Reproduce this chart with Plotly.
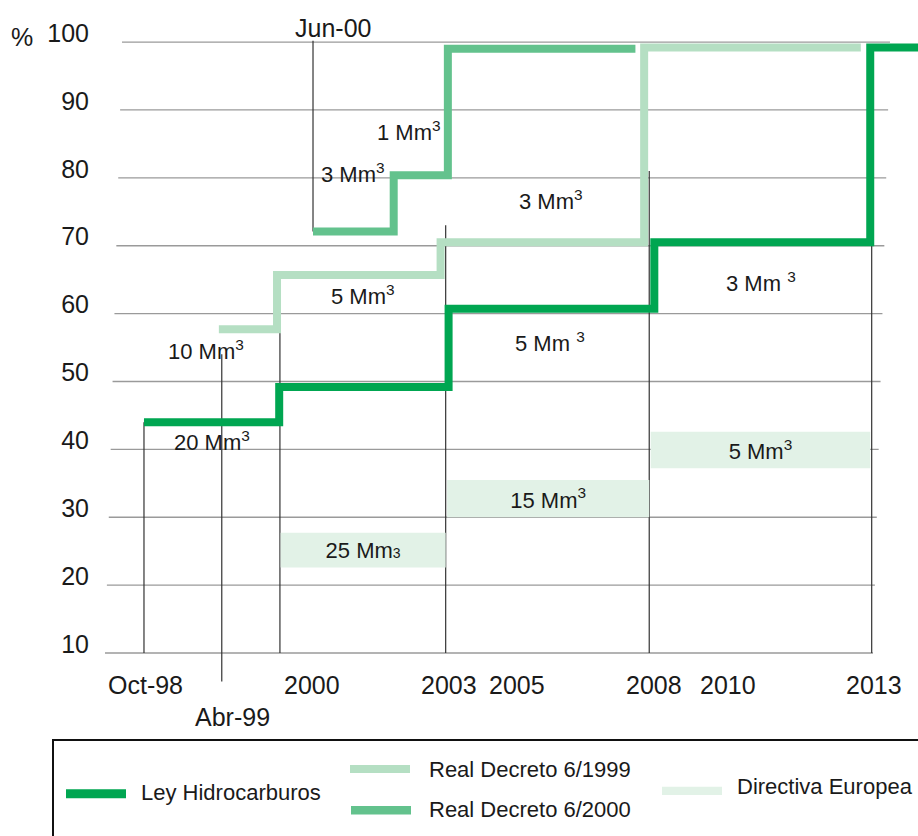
import plotly.graph_objects as go

# ---------------- data ----------------
# Schematic (non-uniform) timeline used by the original chart: Oct-98 = 0 ... 2013 = 100
x_tick_labels = ["Oct-98", "Abr-99", "2000", "2003", "2005", "2008", "2010", "2013"]
x_tick_pos = [0.2, 12.2, 23.1, 42.0, 51.3, 70.1, 80.4, 100.4]
x_tick_row = [0, 1, 0, 0, 0, 0, 0, 0]          # Abr-99 sits on a second row
jun00_label = "Jun-00"
jun00_pos = 26.0

y_ticks = [10, 20, 30, 40, 50, 60, 70, 80, 90, 100]

series_names = ["Ley Hidrocarburos", "Real Decreto 6/1999", "Real Decreto 6/2000", "Directiva Europea"]

ley_x = [0.0, 18.6, 41.9, 70.2, 99.9, 106.5]
ley_y = [44.0, 49.2, 60.7, 70.5, 99.2, 99.2]

rd1999_x = [10.3, 18.3, 40.8, 68.8, 98.6]
rd1999_y = [57.7, 65.7, 70.5, 99.2, 99.2]

rd2000_x = [23.25, 34.35, 41.8, 67.6]
rd2000_y = [72.1, 80.4, 99.0, 99.0]

dir_start = [18.8, 41.7, 69.7]
dir_end = [41.5, 69.5, 99.9]
dir_low = [22.6, 30.0, 37.2]
dir_high = [27.7, 35.5, 42.6]
dir_labels = ["25 Mm<span style='font-size:14px'>3</span>", "15 Mm<sup>3</sup>", "5 Mm<sup>3</sup>"]

# vertical event lines: x, lower end, upper end
event_x = [0.0, 10.7, 18.7, 23.25, 41.5, 69.5, 100.1]
event_lo = [10, 5.8, 10, 72.1, 10, 10, 10]
event_hi = [44.0, 54.0, 57.7, 100.2, 73.0, 81.0, 70.5]

# volume thresholds labels next to the steps
step_text = ["20 Mm<sup>3</sup>", "10 Mm<sup>3</sup>", "5 Mm<sup>3</sup>", "3 Mm<sup>3</sup>",
             "1 Mm<sup>3</sup>", "3 Mm<sup>3</sup>", "5 Mm <sup>3</sup>", "3 Mm <sup>3</sup>"]
step_x = [9.4, 8.5, 30.1, 28.75, 36.45, 55.98, 55.85, 84.87]
step_y = [41.2, 54.7, 62.7, 80.7, 86.9, 76.7, 55.8, 64.6]

# ---------------- style ----------------
FONT = "Liberation Sans, Arial, sans-serif"
C_LEY = "#00a651"
C_RD99 = "#b5dfc3"
C_RD00 = "#63c28d"
C_DIR = "#e2f2e7"
TXT = "#1a1a1a"

W, H = 918, 836
PLOT_L, PLOT_T, PLOT_B = 100, 0, 720          # plot box in page pixels
ML, MR, MT, MB = PLOT_L, 0, PLOT_T, H - PLOT_B
PW, PH = W - ML - MR, H - MT - MB


def fx(p):
    return (p - PLOT_L) / PW


def fy(p):
    return 1 - (p - PLOT_T) / PH


fig = go.Figure()

fig.add_trace(go.Bar(
    x=[(a + b) / 2 for a, b in zip(dir_start, dir_end)],
    width=[b - a for a, b in zip(dir_start, dir_end)],
    base=dir_low,
    y=[h - l for h, l in zip(dir_high, dir_low)],
    marker=dict(color=C_DIR, line=dict(width=0)),
    text=dir_labels, textposition="inside", insidetextanchor="middle",
    textfont=dict(family=FONT, size=22, color=TXT), constraintext="none",
    name=series_names[3], showlegend=False, hoverinfo="skip",
))

for xs, ys, col, nm in [(ley_x, ley_y, C_LEY, series_names[0]),
                        (rd1999_x, rd1999_y, C_RD99, series_names[1]),
                        (rd2000_x, rd2000_y, C_RD00, series_names[2])]:
    fig.add_trace(go.Scatter(x=xs, y=ys, mode="lines", line=dict(color=col, width=8, shape="hv"),
                             name=nm, showlegend=False, hoverinfo="skip"))

shapes = []
# horizontal grid lines (slightly slanted extents like the original)
for v in y_ticks:
    s = 105 + (v - 10) / 90 * 17
    e = 873 + (v - 10) / 90 * 17
    shapes.append(dict(type="line", xref="paper", yref="y", x0=fx(s), x1=fx(e), y0=v, y1=v,
                       line=dict(color="#9a9a9a", width=1.3), layer="below"))
# vertical event lines
for x, lo, hi in zip(event_x, event_lo, event_hi):
    shapes.append(dict(type="line", xref="x", yref="y", x0=x, x1=x, y0=lo, y1=hi,
                       line=dict(color="#333333", width=1.2), layer="below"))

# legend box and samples
shapes.append(dict(type="rect", xref="paper", yref="paper", x0=fx(53), x1=fx(960), y0=fy(740), y1=fy(900),
                   line=dict(color="#111111", width=2), fillcolor="rgba(0,0,0,0)"))
leg_samples = [(66, 126, 793.7, C_LEY, 9), (350, 410, 769, C_RD99, 8),
               (351, 411, 810.3, C_RD00, 8.5), (662, 722, 790.8, C_DIR, 8.3)]
for x0, x1, yy, col, wdt in leg_samples:
    shapes.append(dict(type="line", xref="paper", yref="paper", x0=fx(x0), x1=fx(x1), y0=fy(yy), y1=fy(yy),
                       line=dict(color=col, width=wdt)))

annotations = []
for t, x, y in zip(step_text, step_x, step_y):
    annotations.append(dict(text=t, x=x, y=y, xref="x", yref="y", showarrow=False,
                            font=dict(family=FONT, size=22, color=TXT), xanchor="center", yanchor="middle"))
for t, x, r in zip(x_tick_labels, x_tick_pos, x_tick_row):
    annotations.append(dict(text=t, x=x, y=fy(685 + 32 * r), xref="x", yref="paper", showarrow=False,
                            font=dict(family=FONT, size=25, color=TXT), xanchor="center", yanchor="middle"))
annotations.append(dict(text=jun00_label, x=jun00_pos, y=fy(28), xref="x", yref="paper", showarrow=False,
                        font=dict(family=FONT, size=25, color=TXT), xanchor="center", yanchor="middle"))
annotations.append(dict(text="%", x=fx(22), y=fy(37), xref="paper", yref="paper", showarrow=False,
                        font=dict(family=FONT, size=25, color=TXT), xanchor="center", yanchor="middle"))
leg_text = [(series_names[0], 139, 792), (series_names[1], 427, 769),
            (series_names[2], 427, 809.5), (series_names[3], 735, 787)]
for t, x, y in leg_text:
    annotations.append(dict(text=t, x=fx(x), y=fy(y), xref="paper", yref="paper", showarrow=False,
                            font=dict(family=FONT, size=22, color=TXT), xanchor="left", yanchor="middle"))

fig.update_layout(
    width=W, height=H,
    margin=dict(l=ML, r=MR, t=MT, b=MB, pad=0, autoexpand=False),
    paper_bgcolor="white", plot_bgcolor="white",
    showlegend=False,
    shapes=shapes, annotations=annotations,
    xaxis=dict(range=[-6.05, 106.47], visible=False, showgrid=False, zeroline=False, automargin=False),
    yaxis=dict(range=[0.131, 106.2], tickvals=y_ticks, showgrid=False, zeroline=False, showline=False,
               ticks="", ticklabelposition="outside", ticklabelstandoff=10, ticklabelshift=-9,
               automargin=False, tickfont=dict(family=FONT, size=25, color=TXT)),
    font=dict(family=FONT),
)

# remove the browser's default page margin so the 918x836 figure fills the window exactly
fig.write_html("out.html", config={"displayModeBar": False},
               post_script="document.body.style.margin='0px';document.body.style.overflow='hidden';")
